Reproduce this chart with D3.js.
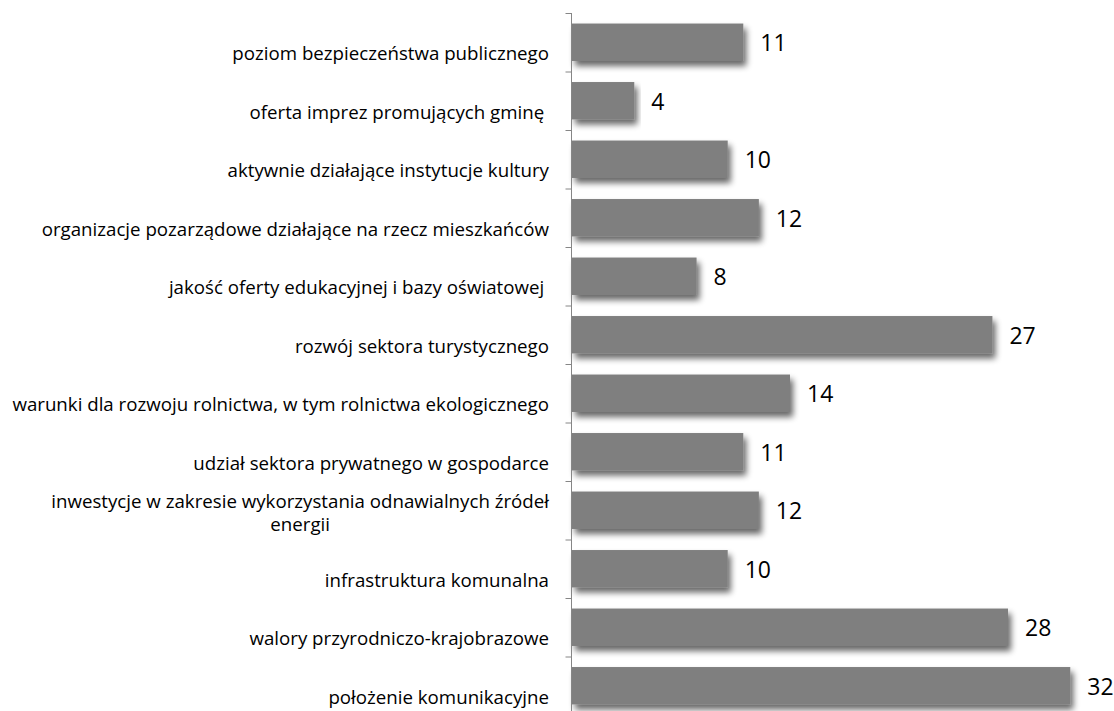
<!DOCTYPE html>
<html>
<head>
<meta charset="utf-8">
<script src="https://cdn.jsdelivr.net/npm/d3@7"></script>
<style>
  body { margin: 0; background: #fff; }
  svg { display: block; }
</style>
</head>
<body>
<div class="chart"></div>
<script>
var categories = [
  "poziom bezpieczeństwa publicznego",
  "oferta imprez promujących gminę ",
  "aktywnie działające instytucje kultury",
  "organizacje pozarządowe działające na rzecz mieszkańców",
  "jakość oferty edukacyjnej i bazy oświatowej ",
  "rozwój sektora turystycznego",
  "warunki dla rozwoju rolnictwa, w tym rolnictwa ekologicznego",
  "udział sektora prywatnego w gospodarce",
  "inwestycje w zakresie wykorzystania odnawialnych źródeł energii",
  "infrastruktura komunalna",
  "walory przyrodniczo-krajobrazowe",
  "położenie komunikacyjne"
];
var values = [11, 4, 10, 12, 8, 27, 14, 11, 12, 10, 28, 32];
// how the long label wraps in the original
var labelLines = {
  "inwestycje w zakresie wykorzystania odnawialnych źródeł energii":
    ["inwestycje w zakresie wykorzystania odnawialnych źródeł", "energii"]
};

var width = 1114, height = 711;
var axisX = 571.5;

var svg = d3.select(".chart").append("svg")
  .attr("width", width)
  .attr("height", height);

var defs = svg.append("defs");
var f = defs.append("filter").attr("id", "shadow")
  .attr("x", "-5%").attr("y", "-30%").attr("width", "115%").attr("height", "180%");
f.append("feGaussianBlur").attr("in", "SourceAlpha").attr("stdDeviation", 3).attr("result", "blur");
f.append("feOffset").attr("in", "blur").attr("dx", 3).attr("dy", 5).attr("result", "off");
f.append("feComponentTransfer").attr("in", "off").attr("result", "sh")
  .append("feFuncA").attr("type", "linear").attr("slope", 0.6);
var m = f.append("feMerge");
m.append("feMergeNode").attr("in", "sh");
m.append("feMergeNode").attr("in", "SourceGraphic");

var x = d3.scaleLinear().domain([0, 35]).range([axisX + 0.5, 1117]);
var y = d3.scaleBand().domain(categories).range([13, 715])
  .paddingInner(0.36).paddingOuter(0.18);

// bars
svg.selectAll(".bar")
  .data(categories)
  .enter().append("rect")
  .attr("class", "bar")
  .attr("x", x(0))
  .attr("y", function(d) { return y(d); })
  .attr("width", function(d, i) { return x(values[i]) - x(0); })
  .attr("height", y.bandwidth())
  .attr("fill", "#7f7f7f")
  .attr("filter", "url(#shadow)");

// axis line + ticks between categories
var y0 = y.range()[0];
svg.append("line")
  .attr("x1", axisX).attr("x2", axisX)
  .attr("y1", y0).attr("y2", y.range()[1])
  .attr("stroke", "#868686").attr("stroke-width", 1);
svg.selectAll(".tick")
  .data(d3.range(categories.length + 1))
  .enter().append("line")
  .attr("x1", axisX - 6).attr("x2", axisX)
  .attr("y1", function(i) { return y0 + i * y.step() + 0.5; })
  .attr("y2", function(i) { return y0 + i * y.step() + 0.5; })
  .attr("stroke", "#868686").attr("stroke-width", 1);

// category labels
var labelRight = 549;
var lab = svg.selectAll(".cat")
  .data(categories)
  .enter().append("text")
  .attr("class", "cat")
  .attr("font-family", "'Open Sans', sans-serif")
  .attr("font-size", 18.7)
  .attr("fill", "#000");

lab.each(function(d) {
  var t = d3.select(this);
  var cy = y(d) + y.bandwidth() / 2;
  var lines = labelLines[d];
  if (!lines) {
    t.attr("x", labelRight).attr("y", cy + 18)
      .attr("text-anchor", "end")
      .attr("xml:space", "preserve")
      .text(d);
  } else {
    var first = t.append("tspan").attr("x", labelRight).attr("y", cy - 2)
      .attr("text-anchor", "end").text(lines[0]);
    var w = first.node().getComputedTextLength();
    t.append("tspan").attr("x", labelRight - w / 2).attr("y", cy + 21)
      .attr("text-anchor", "middle").text(lines[1]);
  }
});

// value labels
svg.selectAll(".val")
  .data(categories)
  .enter().append("text")
  .attr("class", "val")
  .attr("x", function(d, i) { return x(values[i]) + 17; })
  .attr("y", function(d) { return y(d) + y.bandwidth() / 2 + 9; })
  .attr("font-family", "'Open Sans', sans-serif")
  .attr("font-size", 23)
  .attr("fill", "#000")
  .text(function(d, i) { return values[i]; });
</script>
</body>
</html>
